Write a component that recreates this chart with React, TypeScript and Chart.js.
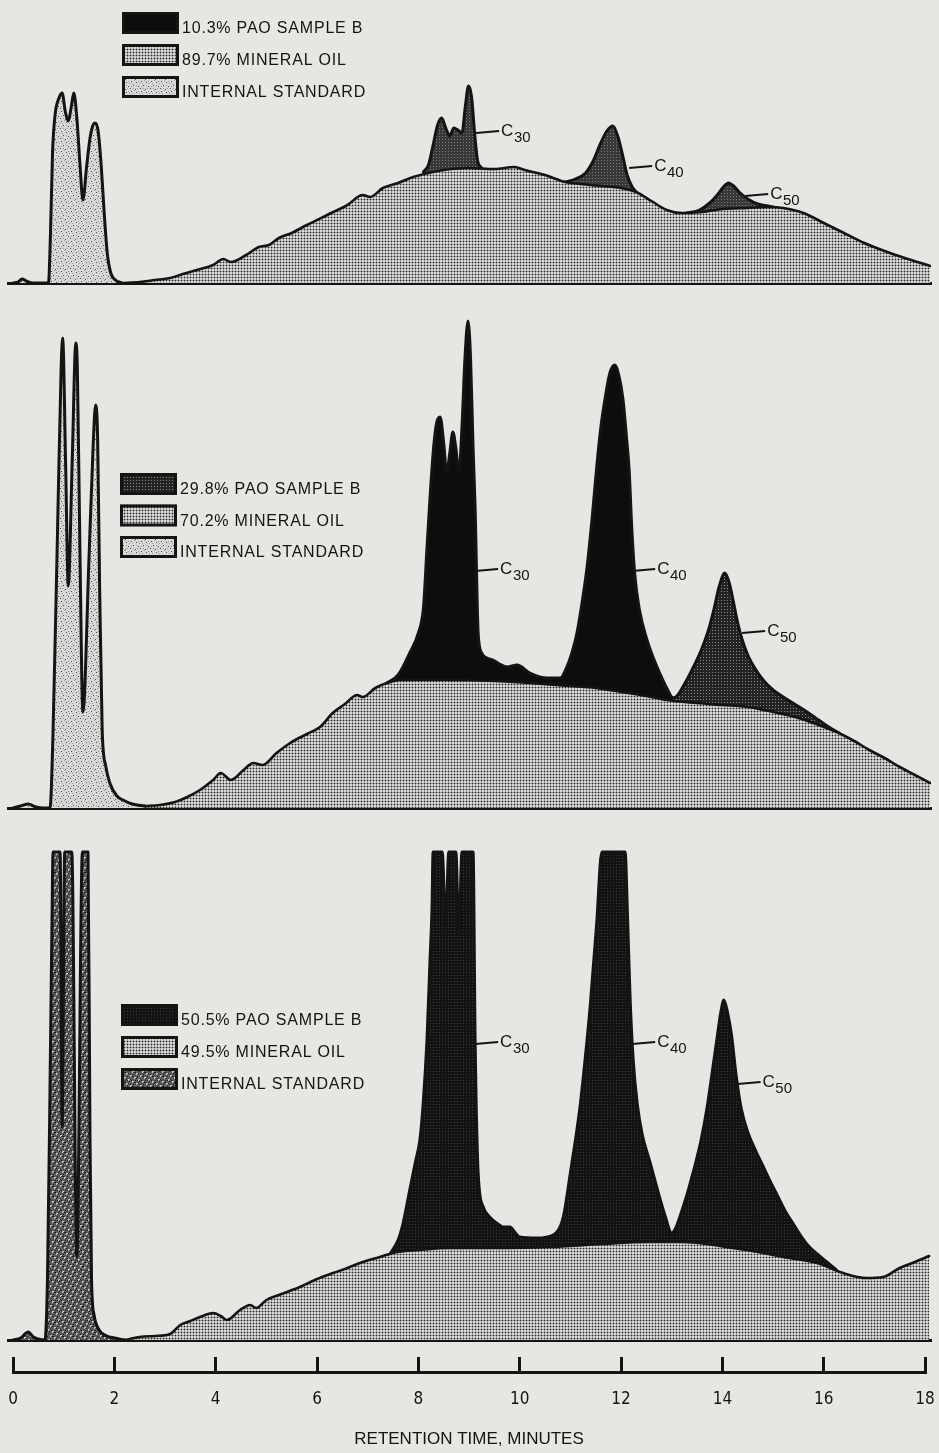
import React, { useEffect, useRef } from 'react';
import { Chart, registerables } from 'chart.js';

Chart.register(...registerables);

type Pt = [number, number | null];

// ---------------- shared retention-time axis ----------------
const RULER_TICKS = [0, 2, 4, 6, 8, 10, 12, 14, 16, 18];
const RULER_LABELS = ['0', '2', '4', '6', '8', '10', '12', '14', '16', '18'];
const AXIS_TITLE = 'RETENTION TIME, MINUTES';

// ---------------- panel 1 : 10.3 % PAO ----------------
const P1_LEGEND = ['10.3% PAO SAMPLE B', '89.7% MINERAL OIL', 'INTERNAL STANDARD'];
const P1_INTERNAL_STD: Pt[] = [
  [0, 0], [0.1, 1], [0.18, 4], [0.26, 2], [0.4, 0], [0.7, 0], [0.74, 50], [0.78, 130], [0.83, 168],
  [0.9, 184], [0.97, 190], [1.03, 172], [1.09, 162], [1.15, 176], [1.2, 190], [1.26, 165], [1.32, 120],
  [1.38, 83], [1.45, 115], [1.52, 145], [1.58, 158], [1.62, 160], [1.68, 152], [1.74, 118], [1.8, 70],
  [1.86, 30], [1.93, 10], [2.02, 3], [2.15, 0],
];
const P1_MINERAL_OIL: Pt[] = [
  [2.15, 0], [2.5, 1], [2.8, 3], [3.1, 5], [3.35, 9], [3.7, 14], [3.95, 18], [4.15, 24], [4.3, 21],
  [4.6, 28], [4.85, 36], [5.05, 38], [5.25, 45], [5.5, 50], [5.8, 58], [6.2, 68], [6.6, 78], [6.9, 88],
  [7.05, 86], [7.3, 95], [7.6, 100], [7.9, 106], [8.2, 110], [8.5, 113], [9.0, 115], [9.5, 114],
  [9.9, 116], [10.1, 113], [10.5, 108], [10.9, 101], [11.2, 99], [11.6, 97], [12.0, 95], [12.3, 91],
  [12.6, 82], [12.9, 73], [13.2, 70], [13.6, 71], [14.0, 74], [14.5, 75], [14.9, 76], [15.2, 75],
  [15.6, 70], [16.0, 60], [16.4, 50], [16.8, 40], [17.2, 32], [17.6, 25], [18.1, 17],
];
const P1_PAO_TRACE: Pt[] = [
  [8.1, 111], [8.2, 118], [8.3, 140], [8.38, 158], [8.46, 165], [8.54, 155], [8.62, 147], [8.7, 155],
  [8.78, 153], [8.86, 150], [8.93, 178], [8.99, 197], [9.05, 186], [9.11, 150], [9.17, 122], [9.25, 115],
  [9.4, null],
  [10.9, 101], [11.1, 104], [11.3, 110], [11.45, 122], [11.6, 140], [11.72, 152], [11.84, 157],
  [11.94, 146], [12.03, 128], [12.12, 108], [12.22, 96], [12.3, 91],
  [12.5, null],
  [13.3, 70], [13.55, 73], [13.75, 80], [13.9, 88], [14.02, 96], [14.12, 100], [14.22, 97], [14.35, 90],
  [14.5, 84], [14.7, 79], [14.9, 77], [15.1, 75],
];
const P1_TAGS = [
  { sub: '30', t: 9.14, h: 150 },
  { sub: '40', t: 12.16, h: 115 },
  { sub: '50', t: 14.45, h: 87 },
];

// ---------------- panel 2 : 29.8 % PAO ----------------
const P2_LEGEND = ['29.8% PAO SAMPLE B', '70.2% MINERAL OIL', 'INTERNAL STANDARD'];
const P2_INTERNAL_STD: Pt[] = [
  [0, 0], [0.15, 2], [0.3, 4], [0.45, 1], [0.6, 0], [0.73, 0], [0.79, 75], [0.88, 280], [0.95, 440],
  [0.98, 470], [1.04, 340], [1.09, 222], [1.17, 350], [1.24, 465], [1.27, 440], [1.32, 260], [1.38, 96],
  [1.5, 250], [1.58, 360], [1.63, 403], [1.67, 370], [1.71, 220], [1.76, 78], [1.83, 42], [1.91, 25],
  [2.05, 12], [2.17, 8], [2.35, 4], [2.6, 2],
];
const P2_MINERAL_OIL: Pt[] = [
  [2.6, 2], [2.9, 3], [3.2, 6], [3.44, 11], [3.69, 18], [3.95, 28], [4.1, 35], [4.3, 28], [4.55, 38],
  [4.74, 45], [4.93, 43], [5.2, 55], [5.47, 65], [5.8, 74], [6.06, 81], [6.31, 95], [6.55, 104],
  [6.79, 113], [6.9, 111], [7.15, 120], [7.38, 125], [7.64, 128], [8.5, 128], [9.5, 127], [10.2, 125],
  [11.0, 122], [11.5, 120], [12.0, 116], [12.5, 112], [12.9, 108], [13.5, 105], [14.0, 103], [14.5, 101],
  [15.0, 96], [15.5, 90], [15.9, 83], [16.3, 75], [16.6, 67], [16.9, 58], [17.2, 50], [17.5, 41],
  [17.8, 33], [18.1, 25],
];
const P2_PAO_TRACE: Pt[] = [
  [7.38, 125], [7.6, 133], [7.83, 155], [8.0, 175], [8.1, 200], [8.17, 260], [8.23, 310], [8.3, 360],
  [8.36, 385], [8.43, 391], [8.5, 365], [8.56, 335], [8.62, 355], [8.68, 376], [8.74, 360], [8.8, 335],
  [8.86, 380], [8.92, 450], [8.98, 487], [9.03, 450], [9.08, 360], [9.12, 300], [9.18, 175], [9.25, 155],
  [9.35, 150], [9.47, 148], [9.6, 144], [9.75, 141], [9.95, 143], [10.2, 135], [10.54, 130], [10.8, 130],
  [10.93, 141], [11.03, 155], [11.13, 175], [11.23, 205], [11.33, 241], [11.43, 290], [11.52, 341],
  [11.6, 380], [11.68, 408], [11.78, 435], [11.88, 443], [11.96, 432], [12.04, 408], [12.1, 375],
  [12.16, 338], [12.21, 282], [12.27, 234], [12.36, 199], [12.5, 170], [12.63, 151], [12.77, 134],
  [12.9, 120], [13.03, 110], [13.12, 113], [13.22, 121], [13.42, 140], [13.6, 160], [13.72, 177],
  [13.83, 198], [13.94, 222], [14.05, 235], [14.13, 226], [14.21, 208], [14.29, 188], [14.38, 170],
  [14.5, 153], [14.65, 139], [14.82, 127], [15.0, 118], [15.2, 111], [15.45, 103], [15.7, 95],
  [15.9, 88], [16.1, 81], [16.3, 75],
];
const P2_C50_START = 13.03;
const P2_TAGS = [
  { sub: '30', t: 9.12, h: 237 },
  { sub: '40', t: 12.22, h: 237 },
  { sub: '50', t: 14.39, h: 175 },
];

// ---------------- panel 3 : 50.5 % PAO ----------------
const P3_LEGEND = ['50.5% PAO SAMPLE B', '49.5% MINERAL OIL', 'INTERNAL STANDARD'];
const P3_INTERNAL_STD: Pt[] = [
  [0, 0], [0.15, 2], [0.3, 8], [0.4, 3], [0.5, 1], [0.63, 0], [0.68, 60], [0.73, 250], [0.77, 420],
  [0.79, 488], [0.93, 488], [0.97, 213], [1.02, 488], [1.16, 488], [1.26, 83], [1.37, 488], [1.48, 488],
  [1.52, 200], [1.55, 60], [1.6, 25], [1.7, 10], [1.85, 4], [2.0, 2], [2.2, 0],
];
const P3_MINERAL_OIL: Pt[] = [
  [2.2, 0], [2.5, 3], [2.8, 4], [3.1, 6], [3.3, 15], [3.5, 19], [3.69, 23], [3.95, 27], [4.1, 24],
  [4.22, 20], [4.48, 30], [4.68, 35], [4.8, 32], [5.0, 40], [5.3, 46], [5.66, 53], [6.0, 61], [6.32, 67],
  [6.6, 72], [6.85, 77], [7.24, 83], [7.58, 88], [8.0, 90], [8.62, 92], [9.5, 92], [10.6, 93], [11.6, 96],
  [12.57, 98], [13.22, 98], [13.7, 96], [14.2, 92], [14.7, 88], [15.2, 83], [15.87, 77], [16.38, 67],
  [16.85, 62], [17.17, 63], [17.5, 72], [17.8, 78], [18.08, 84],
];
const P3_PAO_TRACE: Pt[] = [
  [7.44, 86], [7.6, 100], [7.7, 117], [7.83, 150], [7.95, 180], [8.03, 200], [8.1, 240], [8.17, 300],
  [8.23, 380], [8.27, 433], [8.29, 488], [8.47, 488], [8.54, 415], [8.6, 488], [8.74, 488], [8.8, 405],
  [8.86, 488], [9.08, 488], [9.12, 300], [9.18, 167], [9.28, 133], [9.37, 125], [9.47, 120], [9.57, 116],
  [9.67, 113], [9.81, 113], [9.9, 108], [10.0, 103], [10.34, 102], [10.66, 105], [10.86, 123], [11.0, 167],
  [11.1, 200], [11.19, 233], [11.3, 285], [11.39, 333], [11.52, 417], [11.62, 488], [12.08, 488],
  [12.13, 420], [12.18, 340], [12.24, 280], [12.32, 236], [12.42, 205], [12.57, 178], [12.72, 150],
  [12.87, 124], [13.0, 107], [13.08, 112], [13.16, 123], [13.3, 145], [13.42, 167], [13.58, 200],
  [13.7, 233], [13.8, 268], [13.89, 300], [13.97, 328], [14.03, 340], [14.1, 328], [14.18, 305],
  [14.27, 265], [14.37, 232], [14.5, 208], [14.65, 190], [14.8, 174], [14.95, 158], [15.1, 143],
  [15.25, 128], [15.4, 116], [15.55, 104], [15.7, 94], [15.87, 86], [16.06, 78], [16.25, 70],
];
const P3_TAGS = [
  { sub: '30', t: 9.12, h: 296 },
  { sub: '40', t: 12.22, h: 296 },
  { sub: '50', t: 14.3, h: 256 },
];

// ---------------- layout / style constants ----------------
const W = 939;
const BG = '#e6e6e3';
const INK = '#141414';
const X_PX0 = 13;
const X_PX_PER_MIN = 50.67;
const PLOT_LEFT = 8;
const PLOT_RIGHT = 931;
const X_MIN = (PLOT_LEFT - X_PX0) / X_PX_PER_MIN;
const X_MAX = (PLOT_RIGHT - X_PX0) / X_PX_PER_MIN;
const SANS = "'Liberation Sans', Arial, Helvetica, sans-serif";
const NARROW = "'Liberation Sans Narrow', 'Arial Narrow', 'DejaVu Sans Condensed', sans-serif";

function makeTile(w: number, h: number, bg: string, dots: [number, number, string][]) {
  const c = document.createElement('canvas');
  c.width = w;
  c.height = h;
  const g = c.getContext('2d')!;
  g.fillStyle = bg;
  g.fillRect(0, 0, w, h);
  dots.forEach(([x, y, col]) => {
    g.fillStyle = col;
    g.fillRect(x, y, 1, 1);
  });
  return g.createPattern(c, 'repeat')!;
}

function makePatterns() {
  const oil = makeTile(3, 3, '#d6d6d4', [
    [1, 1, '#262626'], [0, 1, '#9a9a9a'], [2, 1, '#9a9a9a'], [1, 0, '#9a9a9a'], [1, 2, '#9a9a9a'],
  ]);
  const isLight = makeTile(10, 10, '#d8d8d6', [
    [1, 1, '#4c4c4c'], [6, 2, '#4c4c4c'], [3, 5, '#4c4c4c'], [8, 6, '#4c4c4c'], [0, 8, '#4c4c4c'],
    [5, 9, '#4c4c4c'], [4, 0, '#9a9a9a'], [9, 3, '#9a9a9a'], [2, 3, '#9a9a9a'], [7, 8, '#9a9a9a'],
    [6, 5, '#9a9a9a'], [1, 6, '#9a9a9a'], [3, 8, '#9a9a9a'], [8, 1, '#9a9a9a'],
  ]);
  const isDark = makeTile(10, 10, '#5c5c5c', [
    [0, 0, '#c4c4c4'], [1, 0, '#c4c4c4'], [0, 1, '#c4c4c4'], [4, 2, '#c4c4c4'], [5, 2, '#c4c4c4'],
    [4, 3, '#c4c4c4'], [8, 4, '#c4c4c4'], [9, 4, '#c4c4c4'], [8, 5, '#c4c4c4'], [2, 6, '#c4c4c4'],
    [3, 6, '#c4c4c4'], [2, 7, '#c4c4c4'], [6, 8, '#c4c4c4'], [7, 8, '#c4c4c4'], [6, 9, '#c4c4c4'],
    [2, 1, '#1c1c1c'], [3, 1, '#1c1c1c'], [7, 1, '#1c1c1c'], [6, 3, '#1c1c1c'], [0, 4, '#1c1c1c'],
    [1, 5, '#1c1c1c'], [5, 5, '#1c1c1c'], [9, 6, '#1c1c1c'], [4, 7, '#1c1c1c'], [8, 8, '#1c1c1c'],
    [0, 9, '#1c1c1c'], [3, 9, '#1c1c1c'], [7, 5, '#1c1c1c'], [5, 7, '#1c1c1c'],
  ]);
  const pao1 = makeTile(3, 3, '#383838', [[1, 1, '#7c7c7c']]);
  const pao2 = makeTile(3, 3, '#232323', [[1, 1, '#8c8c8c']]);
  const pao3 = makeTile(3, 3, '#121212', [[1, 1, '#3a3a3a']]);
  return { oil, isLight, isDark, pao1, pao2, pao3, black: '#0d0d0d' };
}

function toXY(pts: Pt[]) {
  return pts.map(([x, y]) => ({ x, y }));
}

function traceDataset(label: string, pts: Pt[], fill: any, order: number, extra: any = {}) {
  return {
    label,
    data: toXY(pts),
    borderColor: INK,
    borderWidth: 3,
    backgroundColor: fill,
    fill: 'origin',
    pointRadius: 0,
    pointHoverRadius: 0,
    cubicInterpolationMode: 'monotone',
    borderJoinStyle: 'round',
    borderCapStyle: 'round',
    spanGaps: false,
    order,
    ...extra,
  };
}

function overlayPlugin(legendLabels: string[], legendFills: any[], legendX: number, legendY: number, legendGap: number,
  tags: { sub: string; t: number; h: number }[]) {
  return {
    id: 'overlay',
    afterDatasetsDraw(chart: any) {
      const { ctx } = chart;
      const xs = chart.scales.x;
      const ys = chart.scales.y;
      ctx.save();
      legendLabels.forEach((lab, i) => {
        const bx = legendX;
        const by = legendY + i * legendGap;
        ctx.fillStyle = legendFills[i];
        ctx.fillRect(bx, by, 57, 22);
        ctx.lineWidth = 3;
        ctx.strokeStyle = INK;
        ctx.strokeRect(bx + 1.5, by + 1.5, 54, 19);
        ctx.fillStyle = INK;
        ctx.font = `16px ${SANS}`;
        (ctx as any).letterSpacing = '0.8px';
        ctx.textAlign = 'left';
        ctx.textBaseline = 'alphabetic';
        ctx.fillText(lab, bx + 60, by + 21);
        (ctx as any).letterSpacing = '0px';
      });
      tags.forEach((tg) => {
        const px = xs.getPixelForValue(tg.t);
        const py = ys.getPixelForValue(tg.h);
        ctx.strokeStyle = INK;
        ctx.lineWidth = 2.2;
        ctx.beginPath();
        ctx.moveTo(px, py);
        ctx.lineTo(px + 23, py - 2);
        ctx.stroke();
        ctx.fillStyle = INK;
        ctx.textBaseline = 'middle';
        ctx.font = `17px ${SANS}`;
        ctx.fillText('C', px + 25, py - 2);
        const cw = ctx.measureText('C').width;
        ctx.font = `15px ${SANS}`;
        ctx.fillText(tg.sub, px + 25 + cw + 0.5, py + 5);
      });
      ctx.restore();
    },
  };
}

function panelOptions(yMax: number, padBottom: number) {
  return {
    responsive: false,
    animation: false,
    devicePixelRatio: 1,
    events: [],
    layout: { padding: { left: PLOT_LEFT, right: W - PLOT_RIGHT, top: 0, bottom: padBottom } },
    plugins: { legend: { display: false }, tooltip: { enabled: false }, title: { display: false } },
    scales: {
      x: {
        type: 'linear',
        min: X_MIN,
        max: X_MAX,
        z: 1,
        grid: { display: false, drawTicks: false, tickLength: 0 },
        ticks: { display: false },
        border: { display: true, width: 3, color: INK },
      },
      y: { type: 'linear', display: false, min: 0, max: yMax },
    },
  };
}

const PANELS = [
  { top: 0, height: 290, base: 283, legendX: 122, legendY: 12, legendGap: 32 },
  { top: 290, height: 525, base: 808, legendX: 120, legendY: 473, legendGap: 31.5 },
  { top: 815, height: 532, base: 1340, legendX: 121, legendY: 1004, legendGap: 32 },
];
const AXIS_BOX = { top: 1347, height: 106 };

export default function App() {
  const c1 = useRef<HTMLCanvasElement>(null);
  const c2 = useRef<HTMLCanvasElement>(null);
  const c3 = useRef<HTMLCanvasElement>(null);
  const c4 = useRef<HTMLCanvasElement>(null);

  useEffect(() => {
    document.body.style.margin = '0';
    document.body.style.background = BG;
    const P = makePatterns();
    const charts: Chart[] = [];

    const specs = [
      {
        ref: c1, layout: PANELS[0], legend: P1_LEGEND, tags: P1_TAGS,
        legendFills: [P.black, P.oil, P.isLight],
        datasets: [
          traceDataset(P1_LEGEND[0], P1_PAO_TRACE, P.pao1, 3),
          traceDataset(P1_LEGEND[1], P1_MINERAL_OIL, P.oil, 2, { borderWidth: 2.6 }),
          traceDataset(P1_LEGEND[2], P1_INTERNAL_STD, P.isLight, 1),
        ],
      },
      {
        ref: c2, layout: PANELS[1], legend: P2_LEGEND, tags: P2_TAGS,
        legendFills: [P.pao2, P.oil, P.isLight],
        datasets: [
          traceDataset(P2_LEGEND[0], P2_PAO_TRACE, P.black, 3, {
            segment: { backgroundColor: (s: any) => (s.p0.parsed.x >= P2_C50_START ? P.pao2 : P.black) },
          }),
          traceDataset(P2_LEGEND[1], P2_MINERAL_OIL, P.oil, 2, { borderWidth: 2.6 }),
          traceDataset(P2_LEGEND[2], P2_INTERNAL_STD, P.isLight, 1),
        ],
      },
      {
        ref: c3, layout: PANELS[2], legend: P3_LEGEND, tags: P3_TAGS,
        legendFills: [P.pao3, P.oil, P.isDark],
        datasets: [
          traceDataset(P3_LEGEND[0], P3_PAO_TRACE, P.pao3, 3),
          traceDataset(P3_LEGEND[1], P3_MINERAL_OIL, P.oil, 2, { borderWidth: 2.6 }),
          traceDataset(P3_LEGEND[2], P3_INTERNAL_STD, P.isDark, 1),
        ],
      },
    ];

    specs.forEach((s) => {
      const L = s.layout;
      const yMax = L.base - L.top;
      const padBottom = L.height - yMax;
      const chart = new Chart(s.ref.current!, {
        type: 'line',
        data: { datasets: s.datasets as any },
        options: panelOptions(yMax, padBottom) as any,
        plugins: [overlayPlugin(s.legend, s.legendFills, L.legendX, L.legendY - L.top, L.legendGap, s.tags)],
      });
      charts.push(chart);
    });

    // retention time ruler: top axis = tick marks rising from the ruler line, bottom axis = numbers
    const setTicks = (axis: any) => {
      axis.ticks = RULER_TICKS.map((v) => ({ value: v }));
    };
    const axisChart = new Chart(c4.current!, {
      type: 'line',
      data: { datasets: [] },
      options: {
        responsive: false,
        animation: false,
        devicePixelRatio: 1,
        events: [],
        layout: { padding: { left: X_PX0, right: W - (X_PX0 + 18 * X_PX_PER_MIN), top: 10, bottom: 3.4 } },
        plugins: {
          legend: { display: false },
          tooltip: { enabled: false },
          title: {
            display: true,
            position: 'bottom',
            text: AXIS_TITLE,
            color: INK,
            font: { family: SANS, size: 17, weight: 'normal' },
            padding: { top: 16.6, bottom: 0 },
          },
        },
        scales: {
          x: {
            type: 'linear',
            position: 'top',
            min: RULER_TICKS[0],
            max: RULER_TICKS[RULER_TICKS.length - 1],
            afterBuildTicks: setTicks,
            ticks: { display: false },
            grid: { display: true, drawOnChartArea: false, drawTicks: true, tickLength: 15, color: INK, lineWidth: 3 },
            border: { display: true, width: 3, color: INK },
          },
          x2: {
            type: 'linear',
            axis: 'x',
            position: 'bottom',
            min: RULER_TICKS[0],
            max: RULER_TICKS[RULER_TICKS.length - 1],
            afterBuildTicks: setTicks,
            ticks: {
              autoSkip: false,
              maxRotation: 0,
              padding: 3,
              color: INK,
              font: { family: NARROW, size: 17 },
              callback: (_v: any, i: number) => RULER_LABELS[i],
            },
            grid: { display: false, drawTicks: false },
            border: { display: false },
          },
          y: { display: false, min: 0, max: 1 },
        },
      } as any,
    });
    charts.push(axisChart);

    return () => charts.forEach((c) => c.destroy());
  }, []);

  return (
    <div style={{ position: 'absolute', left: 0, top: 0, width: W, height: 1453, background: BG, overflow: 'hidden' }}>
      <canvas ref={c1} width={W} height={PANELS[0].height} style={{ position: 'absolute', left: 0, top: PANELS[0].top }} />
      <canvas ref={c2} width={W} height={PANELS[1].height} style={{ position: 'absolute', left: 0, top: PANELS[1].top }} />
      <canvas ref={c3} width={W} height={PANELS[2].height} style={{ position: 'absolute', left: 0, top: PANELS[2].top }} />
      <canvas ref={c4} width={W} height={AXIS_BOX.height} style={{ position: 'absolute', left: 0, top: AXIS_BOX.top }} />
    </div>
  );
}
